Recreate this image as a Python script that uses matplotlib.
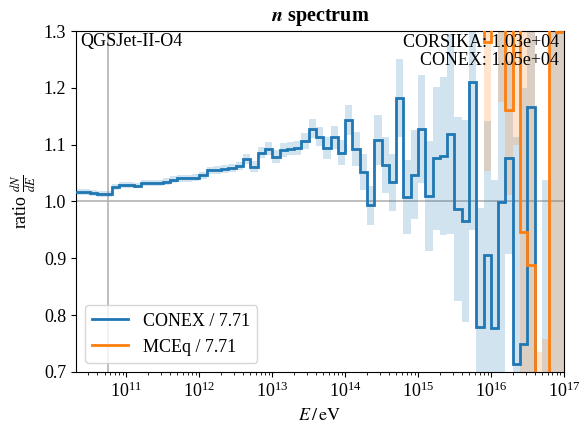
import numpy as np
import matplotlib.pyplot as plt
from matplotlib.ticker import NullFormatter

plt.rcParams['font.family'] = ['Liberation Serif', 'DejaVu Serif']
plt.rcParams['mathtext.fontset'] = 'stix'
plt.rcParams['font.size'] = 13

# bin edges in log10(E/eV), ten bins per decade
log_edges = np.arange(103, 171) / 10.0

# CONEX / CORSIKA ratio per bin (10^10.3 ... 10^16.9)
conex_ratio = [
    1.017, 1.017, 1.015, 1.013, 1.013, 1.026, 1.029, 1.029, 1.028, 1.032,
    1.032, 1.032, 1.035, 1.038, 1.041, 1.041, 1.042, 1.046, 1.055, 1.056,
    1.057, 1.059, 1.062, 1.075, 1.0615, 1.086, 1.093, 1.079, 1.091, 1.093,
    1.094, 1.106, 1.128, 1.114, 1.094, 1.113, 1.086, 1.143, 1.093, 1.052,
    0.993, 1.109, 1.064, 1.034, 1.182, 1.008, 1.047, 1.127, 1.009, 1.076,
    1.080, 1.119, 0.987, 0.966, 1.210, 0.779, 0.906, 0.777, 0.999, 1.077,
    0.713, 0.749, 1.167, 0.0, 0.0, 0.0, 0.0,
]
conex_err = [
    0.005, 0.005, 0.005, 0.005, 0.005, 0.005, 0.005, 0.005, 0.005, 0.005,
    0.005, 0.005, 0.006, 0.006, 0.006, 0.006, 0.006, 0.006, 0.006, 0.007,
    0.007, 0.007, 0.007, 0.009, 0.009, 0.010, 0.011, 0.011, 0.012, 0.012,
    0.013, 0.014, 0.017, 0.017, 0.019, 0.020, 0.022, 0.026, 0.030, 0.032,
    0.035, 0.044, 0.050, 0.050, 0.069, 0.065, 0.078, 0.095, 0.097, 0.126,
    0.139, 0.176, 0.162, 0.178, 0.260, 0.210, 0.235, 0.260, 0.350, 0.170,
    0.400, 0.450, 0.500, 0.0, 1.037, 1.5, 1.5,
]

# MCEq / CORSIKA ratio, only filled from 10^15.8 on
mceq_first_bin = 15.8
mceq_ratio = [1.6, 1.28, 1.6, 1.5, 1.161, 1.5, 0.9455, 0.889, 0.0, 0.0, 1.8, 1.298]
mceq_err = [0.2, 0.226, 0.2, 0.325, 0.15, 0.4, 0.5, 0.5, 0.735, 0.758, 1.8, 1.3]

model_label = "QGSJet-II-O4"
norm_text = "CORSIKA: 1.03e+04\nCONEX: 1.05e+04"
legend_labels = ["CONEX / 7.71", "MCEq / 7.71"]
vline_energy = 5.5e10
x_major = [1e11, 1e12, 1e13, 1e14, 1e15, 1e16, 1e17]


def draw_bands(ax, edges, vals, errs, color):
    vals = np.asarray(vals)
    errs = np.asarray(errs)
    ax.bar(edges[:-1], 2 * errs, width=np.diff(edges), bottom=vals - errs,
           align='edge', color=color, alpha=0.2, linewidth=0)


edges = 10 ** log_edges
i0 = int(round((mceq_first_bin - log_edges[0]) * 10))
mceq_edges = edges[i0:i0 + len(mceq_ratio) + 1]

fig = plt.figure(figsize=(5.8, 4.25), dpi=100)
ax = fig.add_axes([0.131, 0.125, 0.841, 0.802])

ax.axhline(1.0, color='0.7', lw=1.2, zorder=1)
ax.axvline(vline_energy, color='0.7', lw=1.2, zorder=1)

draw_bands(ax, edges, conex_ratio, conex_err, 'C0')
draw_bands(ax, mceq_edges, mceq_ratio, mceq_err, 'C1')

ax.stairs(conex_ratio, edges, baseline=None, color='C0', lw=2,
          label=legend_labels[0], zorder=3)
ax.stairs(mceq_ratio, mceq_edges, baseline=None, color='C1', lw=2,
          label=legend_labels[1], zorder=3)

ax.set_xscale('log')
ax.set_xticks(x_major)
ax.xaxis.set_minor_formatter(NullFormatter())
ax.set_xlim(2.03e10, 1e17)
ax.set_ylim(0.7, 1.3)
ax.set_yticks([0.7, 0.8, 0.9, 1.0, 1.1, 1.2, 1.3])

ax.set_xlabel(r'$E\,/\,\mathrm{eV}$')
ax.set_ylabel(r'ratio $\frac{dN}{dE}$')
ax.set_title(r'$\boldsymbol{n}$ spectrum', fontweight='bold', fontsize=14.5,
             pad=7)

ax.text(0.008, 0.995, model_label, transform=ax.transAxes, ha='left', va='top')
ax.text(0.99, 0.99, norm_text, transform=ax.transAxes, ha='right', va='top',
        linespacing=1.05)

ax.legend(loc='lower left')

fig.savefig('out.png', dpi=100)
